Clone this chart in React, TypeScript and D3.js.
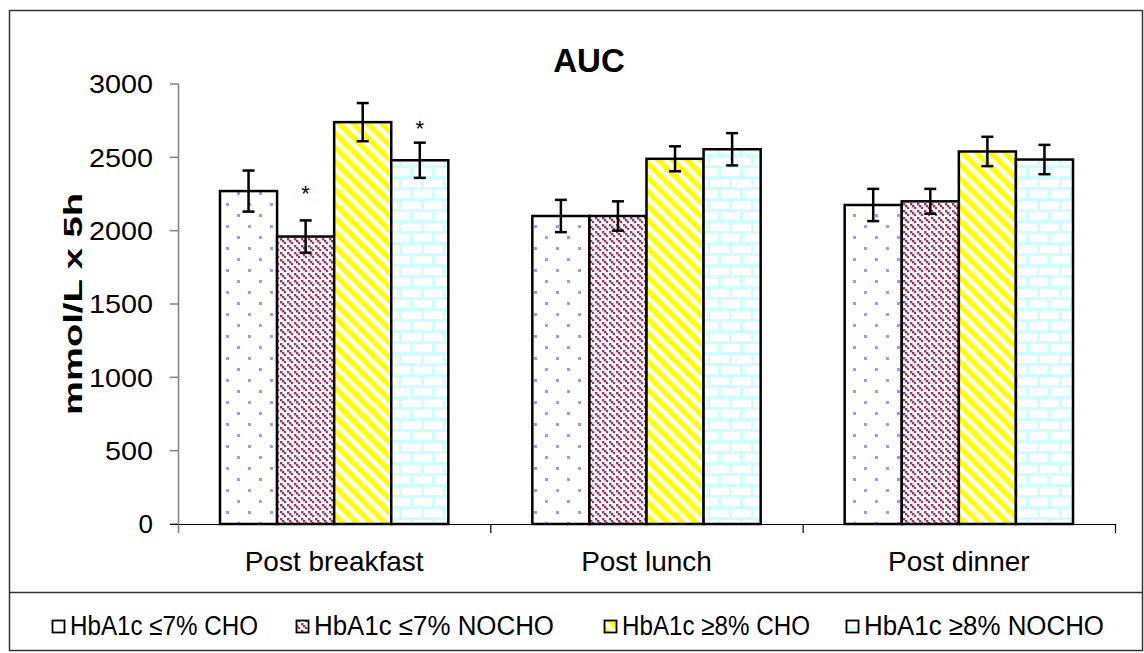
import React from 'react';
import * as d3 from 'd3';

const categories = ['Post breakfast', 'Post lunch', 'Post dinner'];
const seriesNames = ['HbA1c ≤7% CHO', 'HbA1c ≤7% NOCHO', 'HbA1c ≥8% CHO', 'HbA1c ≥8% NOCHO'];
const seriesKeys = ['s1', 's2', 's3', 's4'];

// mean AUC per series, one entry per category
const lowCho = [2270, 2100, 2175];
const lowNocho = [1960, 2100, 2200];
const highCho = [2740, 2490, 2540];
const highNocho = [2480, 2555, 2485];

// error bar half widths
const lowChoErr = [140, 110, 110];
const lowNochoErr = [110, 100, 85];
const highChoErr = [130, 85, 100];
const highNochoErr = [120, 110, 100];

const yTicks = [0, 500, 1000, 1500, 2000, 2500, 3000];

// asterisks: category index, series index, value at which they sit
const stars = [
  { cat: 0, ser: 1, value: 2310 },
  { cat: 0, ser: 3, value: 2750 },
];

const values = [lowCho, lowNocho, highCho, highNocho];
const errors = [lowChoErr, lowNochoErr, highChoErr, highNochoErr];

const W = 1144;
const H = 653;
const FONT = '"Liberation Sans", Arial, sans-serif';

const App = () => {
  const y = d3.scaleLinear().domain([0, 3000]).range([524, 84]);
  const x = d3.scaleBand<string>().domain(categories).range([178, 1115]);
  const inner = d3.scaleBand<string>().domain(seriesKeys).range([42, x.bandwidth() - 42]);

  const bars = categories.flatMap((c, ci) =>
    seriesKeys.map((k, si) => ({
      key: `${c}-${k}`,
      x: (x(c) as number) + (inner(k) as number),
      w: inner.bandwidth(),
      v: values[si][ci],
      e: errors[si][ci],
      fill: `url(#pat-${k})`,
    }))
  );

  // legend text is drawn a little condensed, like the original
  const legendX = [52, 296, 604, 846];
  const legendLen = [188, 240, 188, 240];

  return (
    <div style={{ position: 'absolute', left: 0, top: 0 }}>
      <svg width={W} height={H} style={{ display: 'block', fontFamily: FONT }}>
        <defs>
          {/* lavender dots */}
          <pattern id="pat-s1" width={22} height={22} patternUnits="userSpaceOnUse">
            <rect width={22} height={22} fill="#fff" />
            <rect x={6} y={5} width={3} height={3} fill="#9999ff" />
            <rect x={17} y={16} width={3} height={3} fill="#9999ff" />
          </pattern>
          {/* maroon dashed diagonals */}
          <pattern id="pat-s2" width={7} height={7} patternUnits="userSpaceOnUse">
            <rect width={7} height={7} fill="#fff" />
            <rect x={0} y={0} width={2.4} height={2.4} fill="#993366" />
            <rect x={2} y={2} width={2.4} height={2.4} fill="#993366" />
            <rect x={4} y={4} width={2.2} height={2.2} fill="#993366" />
          </pattern>
          {/* yellow wide diagonals */}
          <pattern id="pat-s3" width={10} height={10} patternUnits="userSpaceOnUse" patternTransform="rotate(-45)">
            <rect width={10} height={10} fill="#fff" />
            <rect x={0} y={0} width={5.5} height={10} fill="#ffff00" />
          </pattern>
          {/* light cyan bricks */}
          <pattern id="pat-s4" width={22} height={22} patternUnits="userSpaceOnUse">
            <rect width={22} height={22} fill="#fff" />
            <rect x={0} y={0} width={22} height={3} fill="#ccffff" />
            <rect x={0} y={11} width={22} height={3} fill="#ccffff" />
            <rect x={3} y={0} width={3} height={11} fill="#ccffff" />
            <rect x={14} y={11} width={3} height={11} fill="#ccffff" />
          </pattern>
        </defs>

        <rect x={0} y={0} width={W} height={H} fill="#fff" />
        {/* outer frame and legend box */}
        <rect x={9.5} y={10.5} width={1133} height={640} fill="none" stroke="#333" strokeWidth={1.5} />
        <line x1={9.5} x2={1142.5} y1={592.5} y2={592.5} stroke="#333" strokeWidth={1.5} />

        <text x={589} y={72} textAnchor="middle" fontSize={33} fontWeight="bold">AUC</text>

        {/* y axis */}
        <line x1={178.5} x2={178.5} y1={y(3000)} y2={533} stroke="#808080" strokeWidth={1.5} />
        {yTicks.map(t => (
          <g key={t}>
            <line x1={170} x2={178.5} y1={y(t)} y2={y(t)} stroke="#808080" strokeWidth={1.5} />
            <text x={153} y={y(t)} dy="0.36em" textAnchor="end" fontSize={26}
              textLength={t === 0 ? undefined : t >= 1000 ? 64 : 48} lengthAdjust="spacingAndGlyphs">{t}</text>
          </g>
        ))}
        <text transform="translate(82,304) rotate(-90)" textAnchor="middle" fontSize={26} fontWeight="bold"
          textLength={222} lengthAdjust="spacingAndGlyphs">mmol/L x 5h</text>

        {/* x axis */}
        <line x1={170} x2={1115} y1={524.5} y2={524.5} stroke="#000" strokeWidth={1.2} />
        {[...categories.map(c => x(c) as number), 1115].map((px, i) => (
          <line key={i} x1={px + 0.5} x2={px + 0.5} y1={524} y2={533} stroke={i === 0 ? '#808080' : '#000'} strokeWidth={1.2} />
        ))}
        {categories.map(c => (
          <text key={c} x={(x(c) as number) + x.bandwidth() / 2} y={571} textAnchor="middle" fontSize={28}>{c}</text>
        ))}

        {/* bars */}
        {bars.map(b => (
          <rect key={b.key} x={b.x} y={y(b.v)} width={b.w} height={y(0) - y(b.v)} fill={b.fill}
            stroke="#000" strokeWidth={2.5} />
        ))}

        {/* error bars */}
        {bars.map(b => {
          const cx = b.x + b.w / 2;
          return (
            <g key={`e-${b.key}`} stroke="#000" strokeWidth={2.5}>
              <line x1={cx} x2={cx} y1={y(b.v + b.e)} y2={y(b.v - b.e)} />
              <line x1={cx - 6} x2={cx + 6} y1={y(b.v + b.e)} y2={y(b.v + b.e)} />
              <line x1={cx - 6} x2={cx + 6} y1={y(b.v - b.e)} y2={y(b.v - b.e)} />
            </g>
          );
        })}

        {stars.map((s, i) => (
          <text key={i} x={(x(categories[s.cat]) as number) + (inner(seriesKeys[s.ser]) as number) + inner.bandwidth() / 2}
            y={y(s.value)} dy="0.7em" textAnchor="middle" fontSize={22}>*</text>
        ))}

        {/* legend */}
        {seriesNames.map((n, i) => (
          <g key={n}>
            <rect x={legendX[i] + 0.5} y={620.5} width={12} height={12} fill={`url(#pat-${seriesKeys[i]})`}
              stroke="#000" strokeWidth={1.8} />
            <text x={legendX[i] + 18} y={635} fontSize={27} textLength={legendLen[i]}
              lengthAdjust="spacingAndGlyphs">{n}</text>
          </g>
        ))}
      </svg>
    </div>
  );
};

export default App;
